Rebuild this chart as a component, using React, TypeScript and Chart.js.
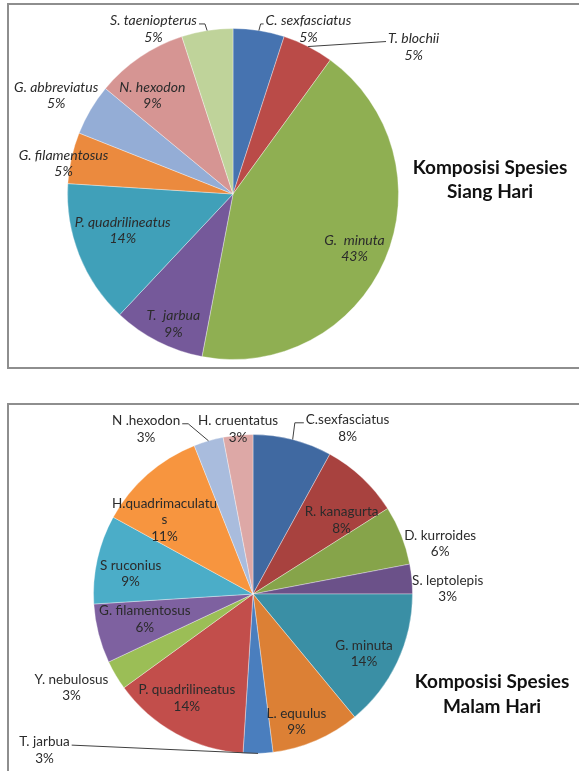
import React, { useEffect, useRef } from "react";
import { Chart, registerables } from "chart.js";

Chart.register(...registerables);

// ---------- Data ----------
const dayCategories = [
  "C. sexfasciatus",
  "T. blochii",
  "G.  minuta",
  "T.  jarbua",
  "P. quadrilineatus",
  "G. filamentosus",
  "G. abbreviatus",
  "N. hexodon",
  "S. taeniopterus",
];
const dayValues = [5, 5, 43, 9, 14, 5, 5, 9, 5];
const dayColors = [
  "#4673B0",
  "#BA4B48",
  "#8FAF52",
  "#75599A",
  "#40A0B9",
  "#EB8A3E",
  "#94ADD6",
  "#D69593",
  "#BFD39A",
];
const dayTitle = ["Komposisi Spesies", "Siang Hari"];

const nightCategories = [
  "C.sexfasciatus",
  "R. kanagurta",
  "D. kurroides",
  "S. leptolepis",
  "G. minuta",
  "L. equulus",
  "T. jarbua",
  "P. quadrilineatus",
  "Y. nebulosus",
  "G. filamentosus",
  "S ruconius",
  "H.quadrimaculatus",
  "N .hexodon",
  "H. cruentatus",
];
const nightValues = [8, 8, 6, 3, 14, 9, 3, 14, 3, 6, 9, 11, 3, 3];
const nightColors = [
  "#4069A1",
  "#A8423F",
  "#86A44A",
  "#6B5189",
  "#3A8FA5",
  "#DC8035",
  "#4A7EBE",
  "#C24E4B",
  "#9BBE56",
  "#7E61A0",
  "#4BADC8",
  "#F7953F",
  "#A9BCDD",
  "#DDA8A6",
];
const nightTitle = ["Komposisi Spesies", "Malam Hari"];

// ---------- Label placement (style config) ----------
type Leader = { side: "L" | "R"; elbow: number };
type Place = { f: number; dx: number; dy: number; leader?: Leader; wrap?: number };

const dayPlacement: Place[] = [
  { f: 1.1, dx: 47, dy: 15, leader: { side: "R", elbow: 5 } },
  { f: 1.1, dx: 98, dy: 15, leader: { side: "R", elbow: 0 } },
  { f: 0.8, dx: 0, dy: 2 },
  { f: 0.86, dx: 5, dy: 3 },
  { f: 0.7, dx: -2.5, dy: -6 },
  { f: 1.04, dx: -1.5, dy: 7 },
  { f: 1.22, dx: -3, dy: 4.5 },
  { f: 0.77, dx: -9, dy: 7 },
  { f: 1.1, dx: -51, dy: 15, leader: { side: "L", elbow: 8 } },
];

const nightPlacement: Place[] = [
  { f: 1.1, dx: 51, dy: 4, leader: { side: "R", elbow: 11 } },
  { f: 0.72, dx: 10, dy: 10 },
  { f: 1.1, dx: 24, dy: 14 },
  { f: 1.1, dx: 20, dy: 11 },
  { f: 0.79, dx: -3, dy: 6 },
  { f: 0.845, dx: -10, dy: 4 },
  { f: 1.1, dx: -214, dy: -19, leader: { side: "L", elbow: 0 } },
  { f: 0.77, dx: -7, dy: -3.5 },
  { f: 1.1, dx: -30.5, dy: 4.4 },
  { f: 0.7, dx: 0, dy: -2.4 },
  { f: 0.78, dx: -1, dy: 7 },
  { f: 0.725, dx: -12, dy: 12.5, wrap: 16 },
  { f: 1.1, dx: -58, dy: 3.5, leader: { side: "L", elbow: 8 } },
  { f: 1.1, dx: 1.6, dy: 9.7 },
];

type PieConfig = {
  categories: string[];
  values: number[];
  colors: string[];
  placement: Place[];
  title: string[];
  labelFont: string;
  titleFont: string;
  titleX: number;
  titleY: number;
  titleLineHeight: number;
  padding: { left: number; right: number; top: number; bottom: number };
  canvasTop: number;
  canvasHeight: number;
};

const dayConfig: PieConfig = {
  categories: dayCategories,
  values: dayValues,
  colors: dayColors,
  placement: dayPlacement,
  title: dayTitle,
  labelFont: "italic 14px Lato",
  titleFont: "bold 19px Lato",
  titleX: 490,
  titleY: 168,
  titleLineHeight: 24,
  padding: { left: 67, right: 180, top: 28, bottom: 26 },
  canvasTop: 0,
  canvasHeight: 386,
};

const nightConfig: PieConfig = {
  categories: nightCategories,
  values: nightValues,
  colors: nightColors,
  placement: nightPlacement,
  title: nightTitle,
  labelFont: "13.5px Lato",
  titleFont: "bold 19px Lato",
  titleX: 492,
  titleY: 296,
  titleLineHeight: 25,
  padding: { left: 93, right: 166, top: 48, bottom: 17 },
  canvasTop: 386,
  canvasHeight: 385,
};

const LINE_H = 16.5;

function makeLabelPlugin(cfg: PieConfig) {
  return {
    id: "sliceLabels",
    afterDatasetsDraw(chart: any) {
      const ctx: CanvasRenderingContext2D = chart.ctx;
      const meta = chart.getDatasetMeta(0);
      const total = cfg.values.reduce((a, b) => a + b, 0);
      ctx.save();
      ctx.font = cfg.labelFont;
      ctx.textAlign = "center";
      ctx.textBaseline = "middle";
      meta.data.forEach((arc: any, i: number) => {
        const p = arc.getProps(["x", "y", "startAngle", "endAngle", "outerRadius"], true);
        const mid = (p.startAngle + p.endAngle) / 2;
        const pl = cfg.placement[i];
        const cx = p.x + Math.cos(mid) * pl.f * p.outerRadius + pl.dx;
        const cy = p.y + Math.sin(mid) * pl.f * p.outerRadius + pl.dy;
        const name = cfg.categories[i];
        const lines: string[] = [];
        if (pl.wrap && name.length > pl.wrap) {
          lines.push(name.slice(0, pl.wrap));
          lines.push(name.slice(pl.wrap));
        } else {
          lines.push(name);
        }
        lines.push(Math.round((cfg.values[i] / total) * 100) + "%");
        const y1 = cy - ((lines.length - 1) * LINE_H) / 2;
        ctx.fillStyle = "#2b2b2b";
        lines.forEach((t, k) => ctx.fillText(t, cx, y1 + k * LINE_H));
        if (pl.leader) {
          const w = ctx.measureText(lines[0]).width;
          const ex = p.x + Math.cos(mid) * p.outerRadius;
          const ey = p.y + Math.sin(mid) * p.outerRadius;
          const ly = y1 + 3;
          ctx.beginPath();
          ctx.strokeStyle = "#404040";
          ctx.lineWidth = 1;
          ctx.moveTo(ex, ey);
          if (pl.leader.side === "R") {
            const edge = cx - w / 2;
            if (pl.leader.elbow > 0) ctx.lineTo(edge - pl.leader.elbow, ly);
            ctx.lineTo(edge - 2, ly);
          } else {
            const edge = cx + w / 2;
            if (pl.leader.elbow > 0) ctx.lineTo(edge + pl.leader.elbow, ly);
            ctx.lineTo(edge + 2, ly);
          }
          ctx.stroke();
        }
      });
      // title
      ctx.font = cfg.titleFont;
      ctx.fillStyle = "#111111";
      cfg.title.forEach((t, k) => ctx.fillText(t, cfg.titleX, cfg.titleY + k * cfg.titleLineHeight));
      ctx.restore();
    },
  };
}

function PieCanvas({ cfg }: { cfg: PieConfig }) {
  const ref = useRef<HTMLCanvasElement | null>(null);
  useEffect(() => {
    if (!ref.current) return;
    const chart = new Chart(ref.current, {
      type: "pie",
      data: {
        labels: cfg.categories,
        datasets: [
          {
            data: cfg.values,
            backgroundColor: cfg.colors,
            borderColor: "rgba(255,255,255,0.35)",
            borderWidth: 1,
          },
        ],
      },
      options: {
        responsive: false,
        animation: false,
        layout: { padding: cfg.padding },
        plugins: {
          legend: { display: false },
          tooltip: { enabled: false },
          title: { display: false },
        },
      },
      plugins: [makeLabelPlugin(cfg)],
    });
    return () => chart.destroy();
  }, [cfg]);
  return (
    <canvas
      ref={ref}
      width={579}
      height={cfg.canvasHeight}
      style={{
        position: "absolute",
        left: 0,
        top: cfg.canvasTop,
        width: 579,
        height: cfg.canvasHeight,
      }}
    />
  );
}

export default function App() {
  return (
    <div
      style={{
        position: "absolute",
        left: 0,
        top: 0,
        width: 579,
        height: 771,
        overflow: "hidden",
        background: "#ffffff",
      }}
    >
      <div
        style={{
          position: "absolute",
          left: 7,
          top: 3,
          width: 585,
          height: 366,
          boxSizing: "border-box",
          border: "2px solid #8e8e8e",
        }}
      />
      <div
        style={{
          position: "absolute",
          left: 7,
          top: 403,
          width: 585,
          height: 400,
          boxSizing: "border-box",
          border: "2px solid #8e8e8e",
        }}
      />
      <PieCanvas cfg={dayConfig} />
      <PieCanvas cfg={nightConfig} />
    </div>
  );
}
